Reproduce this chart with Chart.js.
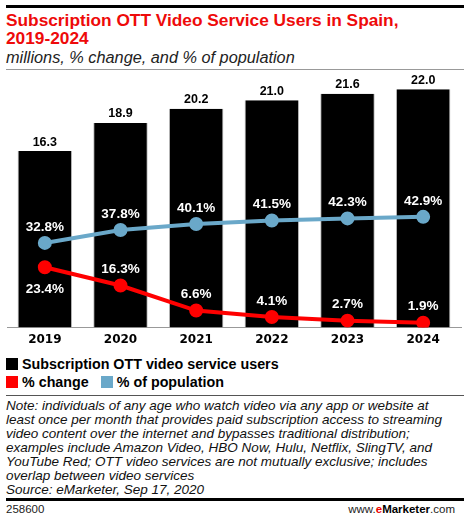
<!DOCTYPE html>
<html>
<head>
<meta charset="utf-8">
<script src="https://cdn.jsdelivr.net/npm/chart.js@4.4.0/dist/chart.umd.min.js"></script>
<style>
  body { margin: 0; width: 470px; height: 522px; background: #fff; position: relative; overflow: hidden;
         font-family: "Liberation Sans", Arial, sans-serif; color: #000; }
  .abs { position: absolute; }
  #topRule { left: 6px; top: 5px; width: 458px; height: 3px; background: #000; }
  #title { left: 6px; top: 11px; color: #ee0a0a; font-weight: bold; font-size: 17.3px; line-height: 18px; white-space: nowrap; }
  #subtitle { left: 6px; top: 48px; font-style: italic; font-size: 16.3px; color: #222; white-space: nowrap; }
  #grayRule { left: 6px; top: 69px; width: 458px; height: 1px; background: #999; }
  #chartBox { left: 0; top: 72px; line-height: 0; }
  #chartBox canvas { display: block; }
  .legRow { left: 6px; font-weight: bold; font-size: 14.3px; white-space: nowrap; line-height: 16px; }
  .sw { display: inline-block; width: 12px; height: 12px; vertical-align: -1px; margin-right: 4px; }
  #noteRule { left: 6px; top: 395px; width: 458px; height: 1px; background: #555; }
  #note { left: 6px; top: 399px; font-style: italic; font-size: 13.5px; line-height: 14px; white-space: pre; color: #111; }
  #bottomRule { left: 6px; top: 498px; width: 458px; height: 3px; background: #000; }
  #footId { left: 6px; top: 503px; font-size: 11.5px; color: #222; }
  #footSite { right: 15px; top: 503px; font-size: 11.5px; color: #222; }
  #footSite b { font-weight: bold; color: #000; }
  #footSite .e { color: #e00; }
</style>
</head>
<body>
<div id="topRule" class="abs"></div>
<div id="title" class="abs">Subscription OTT Video Service Users in Spain,<br>2019-2024</div>
<div id="subtitle" class="abs">millions, % change, and % of population</div>
<div id="grayRule" class="abs"></div>
<div id="chartBox" class="abs"><canvas id="ottChart" width="470" height="282"></canvas></div>
<div class="abs legRow" style="top:356px"><span class="sw" style="background:#000"></span>Subscription OTT video service users</div>
<div class="abs legRow" style="top:374px"><span class="sw" style="background:#ff0000"></span>% change<span class="sw" style="background:#6aa8c9;margin-left:12px"></span>% of population</div>
<div id="noteRule" class="abs"></div>
<div id="note" class="abs">Note: individuals of any age who watch video via any app or website at
least once per month that provides paid subscription access to streaming
video content over the internet and bypasses traditional distribution;
examples include Amazon Video, HBO Now, Hulu, Netflix, SlingTV, and
YouTube Red; OTT video services are not mutually exclusive; includes
overlap between video services
Source: eMarketer, Sep 17, 2020</div>
<div id="bottomRule" class="abs"></div>
<div id="footId" class="abs">258600</div>
<div id="footSite" class="abs">www.<b class="e">e</b><b>Marketer</b>.com</div>

<script>
const years = ['2019', '2020', '2021', '2022', '2023', '2024'];
const users = [16.3, 18.9, 20.2, 21.0, 21.6, 22.0];
const pctChange = [23.4, 16.3, 6.6, 4.1, 2.7, 1.9];
const pctPopulation = [32.8, 37.8, 40.1, 41.5, 42.3, 42.9];

// etiquetas de valores encima/debajo de cada marca
const valueLabels = {
  id: 'valueLabels',
  afterDatasetsDraw(chart) {
    const ctx = chart.ctx;
    ctx.save();
    ctx.textAlign = 'center';
    ctx.textBaseline = 'middle';
    chart.data.datasets.forEach((ds, di) => {
      const meta = chart.getDatasetMeta(di);
      meta.data.forEach((el, i) => {
        const v = ds.data[i];
        if (ds.type === 'bar') {
          ctx.fillStyle = '#000';
          ctx.font = 'bold 12.5px "Liberation Sans", Arial, sans-serif';
          ctx.fillText(v.toFixed(1), el.x, el.y - 9);
        } else {
          ctx.fillStyle = '#fff';
          ctx.font = 'bold 13.5px "Liberation Sans", Arial, sans-serif';
          const dy = (ds.firstLabelBelow && i === 0) ? 22 : -16;
          ctx.fillText(v.toFixed(1) + '%', el.x, el.y + dy);
        }
      });
    });
    ctx.restore();
  }
};

new Chart(document.getElementById('ottChart'), {
  data: {
    labels: years,
    datasets: [
      {
        type: 'line',
        label: '% of population',
        data: pctPopulation,
        yAxisID: 'y2',
        borderColor: '#6aa8c9',
        backgroundColor: '#6aa8c9',
        borderWidth: 4,
        pointRadius: 5,
        tension: 0,
        order: 1
      },
      {
        type: 'line',
        label: '% change',
        data: pctChange,
        yAxisID: 'y2',
        borderColor: '#ff0000',
        backgroundColor: '#ff0000',
        borderWidth: 4,
        pointRadius: 5,
        tension: 0,
        firstLabelBelow: true,
        order: 2
      },
      {
        type: 'bar',
        label: 'Subscription OTT video service users',
        data: users,
        yAxisID: 'y',
        backgroundColor: '#000',
        borderColor: '#bbb',
        borderWidth: { left: 1, right: 1, top: 0, bottom: 0 },
        categoryPercentage: 1,
        barPercentage: 0.72,
        order: 3
      }
    ]
  },
  options: {
    responsive: false,
    animation: false,
    layout: { autoPadding: false, padding: { left: 7, right: 9, top: 0, bottom: 2 } },
    plugins: { legend: { display: false }, tooltip: { enabled: false } },
    scales: {
      x: {
        grid: { display: false, drawTicks: false },
        border: { display: true, color: '#999', width: 1 },
        ticks: { color: '#000', padding: 5, font: { family: '"DejaVu Sans", sans-serif', weight: 'bold', size: 12 } }
      },
      y: { display: false, min: 0, max: 23.6 },
      y2: { display: false, min: 0, max: 99 }
    }
  },
  plugins: [valueLabels]
});
</script>
</body>
</html>
